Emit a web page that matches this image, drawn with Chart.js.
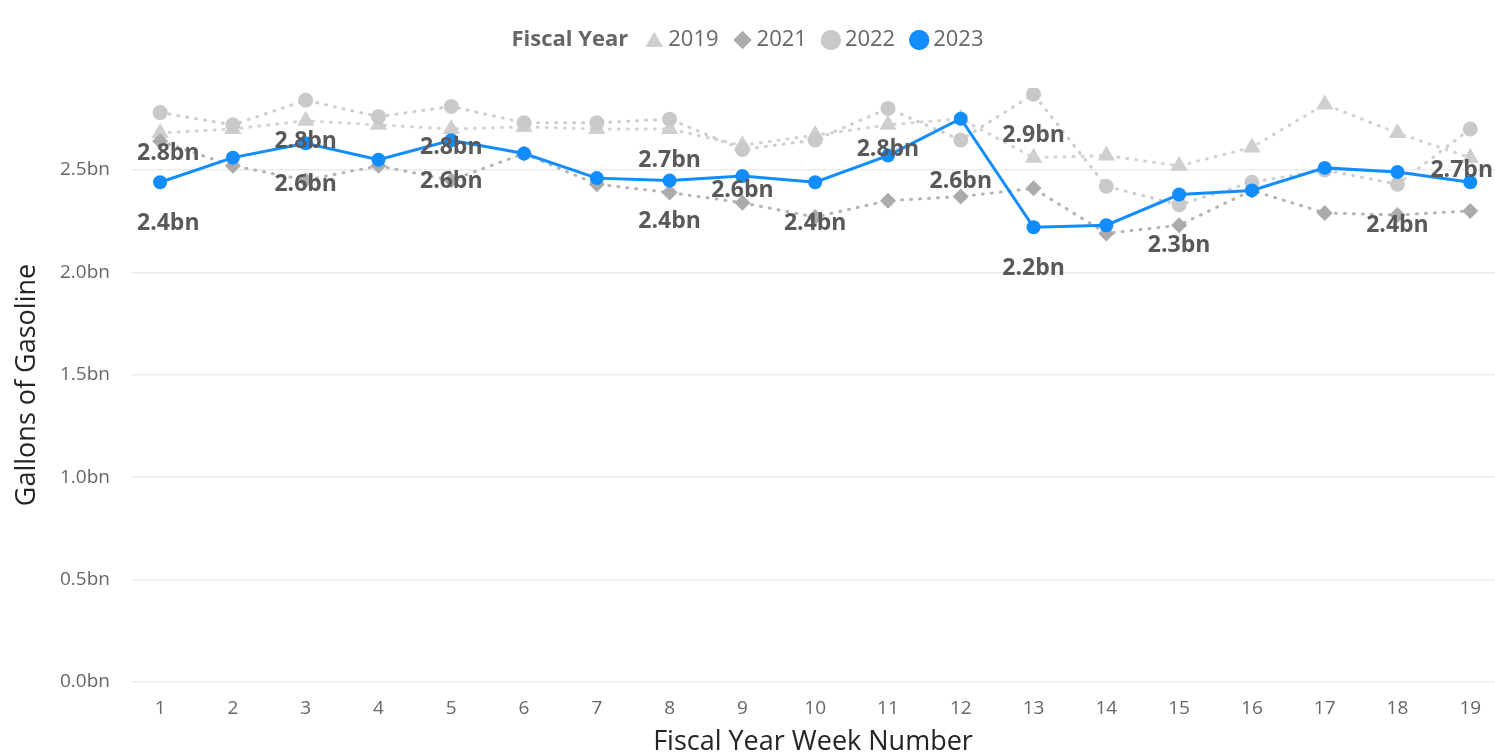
<!DOCTYPE html>
<html>
<head>
<meta charset="utf-8">
<script src="https://cdn.jsdelivr.net/npm/chart.js@4.4.1/dist/chart.umd.min.js"></script>
<style>
  html, body { margin: 0; padding: 0; background: #fff; overflow: hidden; }
  #wrap { width: 1495px; height: 756px; position: relative; }
</style>
</head>
<body>
<div id="wrap"><canvas id="cvs"></canvas></div>
<script>
// недели финансового года и значения (млрд галлонов)
const weeks = [1, 2, 3, 4, 5, 6, 7, 8, 9, 10, 11, 12, 13, 14, 15, 16, 17, 18, 19];
const fy2019 = [2.68, 2.70, 2.74, 2.72, 2.70, 2.71, 2.70, 2.70, 2.62, 2.67, 2.72, 2.75, 2.56, 2.57, 2.52, 2.61, 2.82, 2.68, 2.56];
const fy2021 = [2.64, 2.52, 2.45, 2.52, 2.45, 2.58, 2.43, 2.39, 2.34, 2.27, 2.35, 2.37, 2.41, 2.19, 2.23, 2.40, 2.29, 2.28, 2.30];
const fy2022 = [2.78, 2.72, 2.84, 2.76, 2.81, 2.73, 2.73, 2.748, 2.60, 2.646, 2.80, 2.646, 2.87, 2.42, 2.33, 2.44, 2.50, 2.43, 2.70];
const fy2023 = [2.44, 2.56, 2.63, 2.55, 2.645, 2.58, 2.46, 2.448, 2.47, 2.44, 2.57, 2.75, 2.22, 2.23, 2.38, 2.40, 2.51, 2.49, 2.44];
const yTicks = [0, 0.5, 1.0, 1.5, 2.0, 2.5];

// какие подписи данных видны (остальные скрыты из-за наложения)
const labelWeeks2022 = [1, 3, 5, 8, 9, 11, 12, 13, 15, 18, 19];
const labelWeeks2023 = [1, 3, 5, 8, 10, 13];

const FONT = '"Open Sans", "Noto Sans", sans-serif';
const BLUE = '#118DFF';

const pts = (arr) => weeks.map((w, i) => ({ x: w, y: arr[i] }));

const series = [
  { label: '2019', data: fy2019, color: '#cfcfcf', line: '#d2d2d2', style: 'triangle', r: 10 },
  { label: '2021', data: fy2021, color: '#ababab', line: '#b4b4b4', style: 'rectRot', r: 8 },
  { label: '2022', data: fy2022, color: '#c9c9c9', line: '#cdcdcd', style: 'circle', r: 7.5 },
];

const datasets = series.map((s, i) => ({
  label: s.label, data: pts(s.data),
  borderColor: s.line, borderWidth: 3, borderDash: [1, 8], borderCapStyle: 'round',
  pointStyle: s.style, pointRadius: s.r, pointBackgroundColor: s.color, pointBorderColor: s.color,
  pointBorderWidth: 0, order: 3 - i, tension: 0,
}));
datasets.push({
  label: '2023', data: pts(fy2023),
  borderColor: BLUE, borderWidth: 3, pointStyle: 'circle', pointRadius: 7,
  pointBackgroundColor: BLUE, pointBorderColor: BLUE, pointBorderWidth: 0, order: 0, tension: 0,
});

// подписи значений под точками 2022 / 2023 (не вылезают за область графика)
const dataLabels = {
  id: 'dataLabels',
  afterDatasetsDraw(chart) {
    const ctx = chart.ctx;
    const area = chart.chartArea;
    ctx.save();
    ctx.font = `bold 23px ${FONT}`;
    ctx.fillStyle = '#595959';
    ctx.textAlign = 'center'; ctx.textBaseline = 'middle';
    const put = (dsIdx, arr, list) => {
      const meta = chart.getDatasetMeta(dsIdx);
      for (const w of list) {
        const i = weeks.indexOf(w);
        const p = meta.data[i];
        const txt = arr[i].toFixed(1) + 'bn';
        const half = ctx.measureText(txt).width / 2;
        const x = Math.max(area.left + 6 + half, Math.min(p.x, chart.width - 2 - half));
        ctx.fillText(txt, x, p.y + 41);
      }
    };
    put(2, fy2022, labelWeeks2022);
    put(3, fy2023, labelWeeks2023);
    ctx.restore();
  },
};

// легенда в одну строку с жирным заголовком слева
const legendLine = {
  id: 'legendLine',
  afterDraw(chart) {
    const ctx = chart.ctx;
    const y = 40;
    ctx.save();
    ctx.textBaseline = 'middle'; ctx.textAlign = 'left';
    const title = 'Fiscal Year';
    ctx.font = `bold 22px ${FONT}`;
    const tW = ctx.measureText(title).width;
    ctx.font = `22px ${FONT}`;
    const items = [
      { text: '2019', style: 'triangle', color: '#cfcfcf', r: 10 },
      { text: '2021', style: 'rectRot', color: '#ababab', r: 9 },
      { text: '2022', style: 'circle', color: '#c9c9c9', r: 10 },
      { text: '2023', style: 'circle', color: BLUE, r: 10 },
    ];
    const mk = 20, gapMk = 4, gapItem = 14, gapTitle = 16;
    let total = tW + gapTitle;
    items.forEach((it, k) => { total += mk + gapMk + ctx.measureText(it.text).width + (k < items.length - 1 ? gapItem : 0); });
    let x = chart.width / 2 - total / 2;
    ctx.font = `bold 22px ${FONT}`; ctx.fillStyle = '#666';
    ctx.fillText(title, x, y);
    x += tW + gapTitle;
    ctx.font = `22px ${FONT}`;
    for (const it of items) {
      ctx.fillStyle = it.color; ctx.strokeStyle = it.color;
      Chart.helpers.drawPoint(ctx, { pointStyle: it.style, radius: it.r, borderWidth: 0 }, x + mk / 2, y + (it.style === 'triangle' ? 2 : 0));
      ctx.fill();
      x += mk + gapMk;
      ctx.fillStyle = '#666';
      ctx.fillText(it.text, x, y);
      x += ctx.measureText(it.text).width + gapItem;
    }
    ctx.restore();
  },
};

new Chart(document.getElementById('cvs'), {
  type: 'line',
  data: { datasets },
  plugins: [dataLabels, legendLine],
  options: {
    responsive: true, maintainAspectRatio: false, animation: false,
    layout: { autoPadding: false, padding: { top: 88, left: 0, right: 0, bottom: 0 } },
    plugins: { legend: { display: false }, tooltip: { enabled: false } },
    scales: {
      x: {
        type: 'linear', min: 0.6, max: 19.34,
        afterBuildTicks: (s) => { s.ticks = weeks.map(w => ({ value: w })); },
        afterFit: (s) => { s.height = 74; s.paddingLeft = 0; s.paddingRight = 0; },
        ticks: { callback: (v) => String(v), font: { family: FONT, size: 19 }, color: '#666', padding: 7, maxRotation: 0, autoSkip: false },
        grid: { display: false }, border: { display: false },
        title: { display: true, text: 'Fiscal Year Week Number', font: { family: FONT, size: 27 }, color: '#252423', padding: { top: 0, bottom: -3 } },
      },
      y: {
        min: 0, max: 2.9,
        afterBuildTicks: (s) => { s.ticks = yTicks.map(v => ({ value: v })); },
        afterFit: (s) => { s.width = 131; },
        ticks: { callback: (v) => v.toFixed(1) + 'bn', font: { family: FONT, size: 19 }, color: '#666', padding: 21 },
        grid: { color: '#ececec', lineWidth: 1.5, drawTicks: false }, border: { display: false },
        title: { display: true, text: 'Gallons of Gasoline', font: { family: FONT, size: 27 }, color: '#252423', padding: { top: 11, bottom: 0 } },
      },
    },
  },
});
</script>
</body>
</html>
